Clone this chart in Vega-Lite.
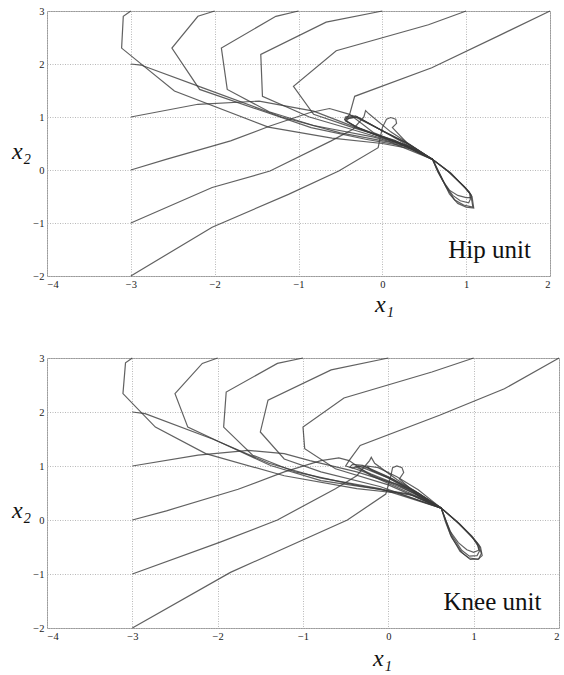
{
"$schema": "https://vega.github.io/schema/vega-lite/v6.json",
"padding": {"left": 11, "top": 5, "right": 0, "bottom": 0},
"background": "white",
"spacing": 35,
"config": {
  "view": {"stroke": "#9a9a9a", "strokeWidth": 1},
  "text": {"font": "Liberation Serif, Times New Roman, DejaVu Serif, serif"},
  "axis": {"labelFont": "Liberation Serif, Times New Roman, DejaVu Serif, serif", "labelFontSize": 10.5, "labelColor": "#222", "format": "d", "grid": true, "gridColor": "#b8b8b8", "gridDash": [1, 1.5], "gridWidth": 1, "domain": false, "ticks": false, "labelPadding": 3, "titleFont": "Liberation Serif, Times New Roman, DejaVu Serif, serif", "titleFontStyle": "italic", "titleFontWeight": "normal", "titleFontSize": 24, "titleColor": "#111"}
},
"datasets": {
  "hip": [
    {"t":"T1","i":0,"x":-3,"y":3},{"t":"T1","i":1,"x":-3.09,"y":2.9},{"t":"T1","i":2,"x":-3.11,"y":2.3},{"t":"T1","i":3,"x":-2.48,"y":1.49},{"t":"T1","i":4,"x":-1.36,"y":0.81},{"t":"T1","i":5,"x":-0.6,"y":0.6},{"t":"T1","i":6,"x":0.0,"y":0.5},{"t":"T1","i":7,"x":0.35,"y":0.4},{"t":"T1","i":8,"x":0.6,"y":0.2},
    {"t":"T2","i":0,"x":-2,"y":3},{"t":"T2","i":1,"x":-2.2,"y":2.9},{"t":"T2","i":2,"x":-2.51,"y":2.3},{"t":"T2","i":3,"x":-2.18,"y":1.52},{"t":"T2","i":4,"x":-1.5,"y":1.15},{"t":"T2","i":5,"x":-0.85,"y":0.8},{"t":"T2","i":6,"x":-0.2,"y":0.58},{"t":"T2","i":7,"x":0.3,"y":0.44},{"t":"T2","i":8,"x":0.6,"y":0.2},
    {"t":"T3","i":0,"x":-1,"y":3},{"t":"T3","i":1,"x":-1.27,"y":2.9},{"t":"T3","i":2,"x":-1.92,"y":2.3},{"t":"T3","i":3,"x":-1.85,"y":1.52},{"t":"T3","i":4,"x":-1.35,"y":1.1},{"t":"T3","i":5,"x":-0.82,"y":0.84},{"t":"T3","i":6,"x":-0.1,"y":0.62},{"t":"T3","i":7,"x":0.35,"y":0.42},{"t":"T3","i":8,"x":0.6,"y":0.2},
    {"t":"T4","i":0,"x":0,"y":3},{"t":"T4","i":1,"x":-0.67,"y":2.79},{"t":"T4","i":2,"x":-1.45,"y":2.18},{"t":"T4","i":3,"x":-1.43,"y":1.39},{"t":"T4","i":4,"x":-0.87,"y":1.0},{"t":"T4","i":5,"x":-0.31,"y":0.74},{"t":"T4","i":6,"x":0.2,"y":0.5},{"t":"T4","i":7,"x":0.6,"y":0.2},
    {"t":"T5","i":0,"x":1,"y":3},{"t":"T5","i":1,"x":0.55,"y":2.74},{"t":"T5","i":2,"x":-0.55,"y":2.25},{"t":"T5","i":3,"x":-1.06,"y":1.58},{"t":"T5","i":4,"x":-0.82,"y":1.05},{"t":"T5","i":5,"x":-0.35,"y":0.8},{"t":"T5","i":6,"x":0.15,"y":0.56},{"t":"T5","i":7,"x":0.6,"y":0.2},
    {"t":"T6","i":0,"x":2,"y":3},{"t":"T6","i":1,"x":1.41,"y":2.55},{"t":"T6","i":2,"x":0.59,"y":1.93},{"t":"T6","i":3,"x":-0.33,"y":1.39},{"t":"T6","i":4,"x":-0.39,"y":1.05},{"t":"T6","i":5,"x":-0.44,"y":0.96},{"t":"T6","i":6,"x":-0.3,"y":1.0},{"t":"T6","i":7,"x":0.0,"y":0.74},{"t":"T6","i":8,"x":0.6,"y":0.2},
    {"t":"T7","i":0,"x":-3,"y":2},{"t":"T7","i":1,"x":-2.88,"y":1.98},{"t":"T7","i":2,"x":-2.14,"y":1.55},{"t":"T7","i":3,"x":-1.2,"y":1.0},{"t":"T7","i":4,"x":-0.5,"y":0.7},{"t":"T7","i":5,"x":0.1,"y":0.52},{"t":"T7","i":6,"x":0.6,"y":0.2},
    {"t":"T8","i":0,"x":-3,"y":1},{"t":"T8","i":1,"x":-2.2,"y":1.24},{"t":"T8","i":2,"x":-1.47,"y":1.3},{"t":"T8","i":3,"x":-0.82,"y":1.11},{"t":"T8","i":4,"x":-0.31,"y":0.8},{"t":"T8","i":5,"x":0.2,"y":0.5},{"t":"T8","i":6,"x":0.6,"y":0.2},
    {"t":"T9","i":0,"x":-3,"y":0},{"t":"T9","i":1,"x":-2.58,"y":0.2},{"t":"T9","i":2,"x":-1.81,"y":0.55},{"t":"T9","i":3,"x":-1.34,"y":0.83},{"t":"T9","i":4,"x":-0.87,"y":1.08},{"t":"T9","i":5,"x":-0.63,"y":1.16},{"t":"T9","i":6,"x":-0.39,"y":1.05},{"t":"T9","i":7,"x":-0.1,"y":0.7},{"t":"T9","i":8,"x":0.3,"y":0.45},{"t":"T9","i":9,"x":0.6,"y":0.2},
    {"t":"T10","i":0,"x":-3,"y":-1},{"t":"T10","i":1,"x":-2.03,"y":-0.33},{"t":"T10","i":2,"x":-1.34,"y":-0.02},{"t":"T10","i":3,"x":-0.61,"y":0.55},{"t":"T10","i":4,"x":-0.35,"y":0.77},{"t":"T10","i":5,"x":-0.22,"y":1.0},{"t":"T10","i":6,"x":-0.2,"y":1.12},{"t":"T10","i":7,"x":-0.16,"y":1.06},{"t":"T10","i":8,"x":0.1,"y":0.72},{"t":"T10","i":9,"x":0.6,"y":0.2},
    {"t":"T11","i":0,"x":-3,"y":-2},{"t":"T11","i":1,"x":-2.03,"y":-1.08},{"t":"T11","i":2,"x":-1.12,"y":-0.46},{"t":"T11","i":3,"x":-0.52,"y":-0.02},{"t":"T11","i":4,"x":-0.05,"y":0.42},{"t":"T11","i":5,"x":0.0,"y":0.8},{"t":"T11","i":6,"x":0.05,"y":0.96},{"t":"T11","i":7,"x":0.1,"y":0.99},{"t":"T11","i":8,"x":0.16,"y":0.96},{"t":"T11","i":9,"x":0.17,"y":0.88},{"t":"T11","i":10,"x":0.12,"y":0.8},{"t":"T11","i":11,"x":0.3,"y":0.5},{"t":"T11","i":12,"x":0.6,"y":0.2},
    {"t":"L1","i":0,"x":0.6,"y":0.2},{"t":"L1","i":1,"x":0.8,"y":-0.05},{"t":"L1","i":2,"x":0.98,"y":-0.32},{"t":"L1","i":3,"x":1.05,"y":-0.45},{"t":"L1","i":4,"x":1.07,"y":-0.6},{"t":"L1","i":5,"x":1.08,"y":-0.7},{"t":"L1","i":6,"x":0.97,"y":-0.66},{"t":"L1","i":7,"x":0.86,"y":-0.56},{"t":"L1","i":8,"x":0.76,"y":-0.32},{"t":"L1","i":9,"x":0.68,"y":-0.06},{"t":"L1","i":10,"x":0.6,"y":0.2},{"t":"L1","i":11,"x":0.3,"y":0.46},{"t":"L1","i":12,"x":0.0,"y":0.62},{"t":"L1","i":13,"x":-0.3,"y":0.8},{"t":"L1","i":14,"x":-0.44,"y":0.93},{"t":"L1","i":15,"x":-0.42,"y":0.99},{"t":"L1","i":16,"x":-0.32,"y":1.02},{"t":"L1","i":17,"x":0.0,"y":0.74},{"t":"L1","i":18,"x":0.3,"y":0.5},{"t":"L1","i":19,"x":0.6,"y":0.2},
    {"t":"L2","i":0,"x":0.6,"y":0.2},{"t":"L2","i":1,"x":0.78,"y":-0.02},{"t":"L2","i":2,"x":0.97,"y":-0.3},{"t":"L2","i":3,"x":1.04,"y":-0.42},{"t":"L2","i":4,"x":1.05,"y":-0.55},{"t":"L2","i":5,"x":1.03,"y":-0.62},{"t":"L2","i":6,"x":0.93,"y":-0.58},{"t":"L2","i":7,"x":0.84,"y":-0.48},{"t":"L2","i":8,"x":0.75,"y":-0.28},{"t":"L2","i":9,"x":0.67,"y":-0.05},{"t":"L2","i":10,"x":0.6,"y":0.2},{"t":"L2","i":11,"x":0.32,"y":0.44},{"t":"L2","i":12,"x":0.02,"y":0.6},{"t":"L2","i":13,"x":-0.28,"y":0.79},{"t":"L2","i":14,"x":-0.43,"y":0.92},{"t":"L2","i":15,"x":-0.4,"y":0.98},{"t":"L2","i":16,"x":-0.3,"y":1.0},{"t":"L2","i":17,"x":0.02,"y":0.72},{"t":"L2","i":18,"x":0.32,"y":0.48},{"t":"L2","i":19,"x":0.6,"y":0.2},
    {"t":"L3","i":0,"x":0.6,"y":0.2},{"t":"L3","i":1,"x":0.8,"y":-0.04},{"t":"L3","i":2,"x":0.99,"y":-0.34},{"t":"L3","i":3,"x":1.06,"y":-0.47},{"t":"L3","i":4,"x":1.06,"y":-0.52},{"t":"L3","i":5,"x":1.0,"y":-0.52},{"t":"L3","i":6,"x":0.9,"y":-0.48},{"t":"L3","i":7,"x":0.8,"y":-0.38},{"t":"L3","i":8,"x":0.72,"y":-0.2},{"t":"L3","i":9,"x":0.66,"y":-0.03},{"t":"L3","i":10,"x":0.6,"y":0.2},{"t":"L3","i":11,"x":0.28,"y":0.47},{"t":"L3","i":12,"x":-0.02,"y":0.64},{"t":"L3","i":13,"x":-0.32,"y":0.82},{"t":"L3","i":14,"x":-0.45,"y":0.95},{"t":"L3","i":15,"x":-0.44,"y":1.0},{"t":"L3","i":16,"x":-0.36,"y":1.03},{"t":"L3","i":17,"x":-0.02,"y":0.76},{"t":"L3","i":18,"x":0.28,"y":0.52},{"t":"L3","i":19,"x":0.6,"y":0.2},
    {"t":"L4","i":0,"x":0.6,"y":0.2},{"t":"L4","i":1,"x":0.82,"y":-0.06},{"t":"L4","i":2,"x":1.0,"y":-0.36},{"t":"L4","i":3,"x":1.07,"y":-0.5},{"t":"L4","i":4,"x":1.09,"y":-0.72},{"t":"L4","i":5,"x":1.0,"y":-0.7},{"t":"L4","i":6,"x":0.9,"y":-0.63},{"t":"L4","i":7,"x":0.8,"y":-0.45},{"t":"L4","i":8,"x":0.7,"y":-0.12},{"t":"L4","i":9,"x":0.6,"y":0.2}
  ],
  "knee": [
    {"t":"K1","i":0,"x":-3,"y":3},{"t":"K1","i":1,"x":-3.08,"y":2.91},{"t":"K1","i":2,"x":-3.11,"y":2.34},{"t":"K1","i":3,"x":-2.73,"y":1.72},{"t":"K1","i":4,"x":-2.14,"y":1.23},{"t":"K1","i":5,"x":-1.22,"y":0.82},{"t":"K1","i":6,"x":-0.37,"y":0.58},{"t":"K1","i":7,"x":0.1,"y":0.5},{"t":"K1","i":8,"x":0.62,"y":0.22},
    {"t":"K2","i":0,"x":-2,"y":3},{"t":"K2","i":1,"x":-2.18,"y":2.9},{"t":"K2","i":2,"x":-2.5,"y":2.34},{"t":"K2","i":3,"x":-2.35,"y":1.72},{"t":"K2","i":4,"x":-1.97,"y":1.44},{"t":"K2","i":5,"x":-1.38,"y":1.01},{"t":"K2","i":6,"x":-0.79,"y":0.73},{"t":"K2","i":7,"x":-0.16,"y":0.58},{"t":"K2","i":8,"x":0.3,"y":0.45},{"t":"K2","i":9,"x":0.62,"y":0.22},
    {"t":"K3","i":0,"x":-1,"y":3},{"t":"K3","i":1,"x":-1.3,"y":2.9},{"t":"K3","i":2,"x":-1.9,"y":2.37},{"t":"K3","i":3,"x":-1.93,"y":1.72},{"t":"K3","i":4,"x":-1.59,"y":1.2},{"t":"K3","i":5,"x":-1.09,"y":0.89},{"t":"K3","i":6,"x":-0.37,"y":0.64},{"t":"K3","i":7,"x":0.25,"y":0.48},{"t":"K3","i":8,"x":0.62,"y":0.22},
    {"t":"K4","i":0,"x":0,"y":3},{"t":"K4","i":1,"x":-0.67,"y":2.78},{"t":"K4","i":2,"x":-1.41,"y":2.22},{"t":"K4","i":3,"x":-1.5,"y":1.63},{"t":"K4","i":4,"x":-1.22,"y":1.13},{"t":"K4","i":5,"x":-0.79,"y":0.89},{"t":"K4","i":6,"x":-0.1,"y":0.62},{"t":"K4","i":7,"x":0.62,"y":0.22},
    {"t":"K5","i":0,"x":1,"y":3},{"t":"K5","i":1,"x":0.51,"y":2.74},{"t":"K5","i":2,"x":-0.52,"y":2.26},{"t":"K5","i":3,"x":-1.0,"y":1.72},{"t":"K5","i":4,"x":-0.98,"y":1.32},{"t":"K5","i":5,"x":-0.62,"y":0.95},{"t":"K5","i":6,"x":0.0,"y":0.65},{"t":"K5","i":7,"x":0.62,"y":0.22},
    {"t":"K6","i":0,"x":2,"y":3},{"t":"K6","i":1,"x":1.36,"y":2.43},{"t":"K6","i":2,"x":0.6,"y":1.94},{"t":"K6","i":3,"x":-0.33,"y":1.38},{"t":"K6","i":4,"x":-0.46,"y":1.1},{"t":"K6","i":5,"x":-0.5,"y":1.0},{"t":"K6","i":6,"x":-0.42,"y":0.96},{"t":"K6","i":7,"x":-0.35,"y":1.0},{"t":"K6","i":8,"x":0.0,"y":0.78},{"t":"K6","i":9,"x":0.62,"y":0.22},
    {"t":"K7","i":0,"x":-3,"y":2},{"t":"K7","i":1,"x":-2.85,"y":1.97},{"t":"K7","i":2,"x":-2.06,"y":1.5},{"t":"K7","i":3,"x":-1.4,"y":1.05},{"t":"K7","i":4,"x":-0.8,"y":0.78},{"t":"K7","i":5,"x":-0.1,"y":0.58},{"t":"K7","i":6,"x":0.62,"y":0.22},
    {"t":"K8","i":0,"x":-3,"y":1},{"t":"K8","i":1,"x":-2.23,"y":1.2},{"t":"K8","i":2,"x":-1.64,"y":1.29},{"t":"K8","i":3,"x":-1.22,"y":1.23},{"t":"K8","i":4,"x":-0.92,"y":1.1},{"t":"K8","i":5,"x":-0.37,"y":0.89},{"t":"K8","i":6,"x":0.1,"y":0.66},{"t":"K8","i":7,"x":0.62,"y":0.22},
    {"t":"K9","i":0,"x":-3,"y":0},{"t":"K9","i":1,"x":-2.6,"y":0.17},{"t":"K9","i":2,"x":-1.76,"y":0.57},{"t":"K9","i":3,"x":-1.22,"y":0.89},{"t":"K9","i":4,"x":-0.79,"y":1.1},{"t":"K9","i":5,"x":-0.58,"y":1.15},{"t":"K9","i":6,"x":-0.46,"y":1.1},{"t":"K9","i":7,"x":-0.2,"y":0.82},{"t":"K9","i":8,"x":0.25,"y":0.5},{"t":"K9","i":9,"x":0.62,"y":0.22},
    {"t":"K10","i":0,"x":-3,"y":-1},{"t":"K10","i":1,"x":-1.97,"y":-0.41},{"t":"K10","i":2,"x":-1.3,"y":0.0},{"t":"K10","i":3,"x":-0.62,"y":0.58},{"t":"K10","i":4,"x":-0.37,"y":0.82},{"t":"K10","i":5,"x":-0.22,"y":1.1},{"t":"K10","i":6,"x":-0.2,"y":1.16},{"t":"K10","i":7,"x":-0.16,"y":1.05},{"t":"K10","i":8,"x":0.1,"y":0.75},{"t":"K10","i":9,"x":0.62,"y":0.22},
    {"t":"K11","i":0,"x":-3,"y":-2},{"t":"K11","i":1,"x":-1.85,"y":-0.97},{"t":"K11","i":2,"x":-0.48,"y":0.0},{"t":"K11","i":3,"x":-0.03,"y":0.48},{"t":"K11","i":4,"x":0.03,"y":0.82},{"t":"K11","i":5,"x":0.05,"y":0.97},{"t":"K11","i":6,"x":0.1,"y":1.0},{"t":"K11","i":7,"x":0.16,"y":0.97},{"t":"K11","i":8,"x":0.18,"y":0.88},{"t":"K11","i":9,"x":0.13,"y":0.76},{"t":"K11","i":10,"x":0.35,"y":0.45},{"t":"K11","i":11,"x":0.62,"y":0.22},
    {"t":"M1","i":0,"x":0.62,"y":0.22},{"t":"M1","i":1,"x":0.82,"y":-0.05},{"t":"M1","i":2,"x":0.98,"y":-0.3},{"t":"M1","i":3,"x":1.06,"y":-0.46},{"t":"M1","i":4,"x":1.09,"y":-0.62},{"t":"M1","i":5,"x":1.06,"y":-0.72},{"t":"M1","i":6,"x":0.96,"y":-0.73},{"t":"M1","i":7,"x":0.86,"y":-0.6},{"t":"M1","i":8,"x":0.74,"y":-0.32},{"t":"M1","i":9,"x":0.67,"y":-0.04},{"t":"M1","i":10,"x":0.62,"y":0.22},{"t":"M1","i":11,"x":0.3,"y":0.5},{"t":"M1","i":12,"x":0.0,"y":0.7},{"t":"M1","i":13,"x":-0.3,"y":0.9},{"t":"M1","i":14,"x":-0.45,"y":0.98},{"t":"M1","i":15,"x":-0.42,"y":1.03},{"t":"M1","i":16,"x":-0.3,"y":1.01},{"t":"M1","i":17,"x":0.0,"y":0.8},{"t":"M1","i":18,"x":0.3,"y":0.55},{"t":"M1","i":19,"x":0.62,"y":0.22},
    {"t":"M2","i":0,"x":0.62,"y":0.22},{"t":"M2","i":1,"x":0.8,"y":-0.03},{"t":"M2","i":2,"x":0.96,"y":-0.28},{"t":"M2","i":3,"x":1.04,"y":-0.43},{"t":"M2","i":4,"x":1.07,"y":-0.57},{"t":"M2","i":5,"x":1.04,"y":-0.66},{"t":"M2","i":6,"x":0.95,"y":-0.67},{"t":"M2","i":7,"x":0.86,"y":-0.56},{"t":"M2","i":8,"x":0.75,"y":-0.3},{"t":"M2","i":9,"x":0.68,"y":-0.03},{"t":"M2","i":10,"x":0.62,"y":0.22},{"t":"M2","i":11,"x":0.32,"y":0.52},{"t":"M2","i":12,"x":0.05,"y":0.74},{"t":"M2","i":13,"x":-0.2,"y":0.92},{"t":"M2","i":14,"x":-0.25,"y":1.0},{"t":"M2","i":15,"x":-0.12,"y":0.97},{"t":"M2","i":16,"x":0.1,"y":0.8},{"t":"M2","i":17,"x":0.35,"y":0.56},{"t":"M2","i":18,"x":0.62,"y":0.22},
    {"t":"M3","i":0,"x":0.62,"y":0.22},{"t":"M3","i":1,"x":0.83,"y":-0.07},{"t":"M3","i":2,"x":0.99,"y":-0.33},{"t":"M3","i":3,"x":1.05,"y":-0.48},{"t":"M3","i":4,"x":1.06,"y":-0.56},{"t":"M3","i":5,"x":1.0,"y":-0.6},{"t":"M3","i":6,"x":0.92,"y":-0.55},{"t":"M3","i":7,"x":0.82,"y":-0.42},{"t":"M3","i":8,"x":0.72,"y":-0.2},{"t":"M3","i":9,"x":0.62,"y":0.22},{"t":"M3","i":10,"x":0.35,"y":0.5},{"t":"M3","i":11,"x":0.1,"y":0.66},{"t":"M3","i":12,"x":-0.2,"y":0.85},{"t":"M3","i":13,"x":-0.38,"y":0.98},{"t":"M3","i":14,"x":-0.3,"y":1.0},{"t":"M3","i":15,"x":0.05,"y":0.76},{"t":"M3","i":16,"x":0.62,"y":0.22},
    {"t":"M4","i":0,"x":0.62,"y":0.22},{"t":"M4","i":1,"x":0.84,"y":-0.08},{"t":"M4","i":2,"x":1.0,"y":-0.35},{"t":"M4","i":3,"x":1.08,"y":-0.5},{"t":"M4","i":4,"x":1.1,"y":-0.66},{"t":"M4","i":5,"x":1.05,"y":-0.73},{"t":"M4","i":6,"x":0.94,"y":-0.7},{"t":"M4","i":7,"x":0.84,"y":-0.58},{"t":"M4","i":8,"x":0.73,"y":-0.28},{"t":"M4","i":9,"x":0.62,"y":0.22}
  ],
  "hiplabel": [{"label": "Hip unit", "x": 1.28, "y": -1.5}],
  "kneelabel": [{"label": "Knee unit", "x": 1.22, "y": -1.52}]
},
"vconcat": [
  {
    "width": 503, "height": 265,
    "layer": [
      {
        "data": {"name": "hip"},
        "mark": {"type": "line", "stroke": "#3a3a3a", "strokeWidth": 1.2, "opacity": 0.8},
        "encoding": {
          "x": {"field": "x", "type": "quantitative", "scale": {"domain": [-4, 2], "nice": false, "zero": false}, "axis": {"values": [-4, -3, -2, -1, 0, 1, 2], "title": "x₁", "titleX": 337, "titleY": 28, "titleBaseline": "middle"}},
          "y": {"field": "y", "type": "quantitative", "scale": {"domain": [-2, 3], "nice": false, "zero": false}, "axis": {"values": [-2, -1, 0, 1, 2, 3], "title": "x₂", "titleAngle": 0, "titleX": -26, "titleY": 140, "titleAlign": "center", "titleBaseline": "middle"}},
          "detail": {"field": "t"},
          "order": {"field": "i", "type": "quantitative"}
        }
      },
      {
        "data": {"name": "hiplabel"},
        "mark": {"type": "text", "font": "Liberation Serif, Times New Roman, DejaVu Serif, serif", "fontSize": 25, "color": "#111", "align": "center", "baseline": "middle"},
        "encoding": {"x": {"field": "x", "type": "quantitative"}, "y": {"field": "y", "type": "quantitative"}, "text": {"field": "label"}}
      }
    ]
  },
  {
    "width": 512, "height": 270,
    "layer": [
      {
        "data": {"name": "knee"},
        "mark": {"type": "line", "stroke": "#3a3a3a", "strokeWidth": 1.2, "opacity": 0.8},
        "encoding": {
          "x": {"field": "x", "type": "quantitative", "scale": {"domain": [-4, 2], "nice": false, "zero": false}, "axis": {"values": [-4, -3, -2, -1, 0, 1, 2], "title": "x₁", "titleX": 335, "titleY": 30, "titleBaseline": "middle"}},
          "y": {"field": "y", "type": "quantitative", "scale": {"domain": [-2, 3], "nice": false, "zero": false}, "axis": {"values": [-2, -1, 0, 1, 2, 3], "title": "x₂", "titleAngle": 0, "titleX": -26, "titleY": 152, "titleAlign": "center", "titleBaseline": "middle"}},
          "detail": {"field": "t"},
          "order": {"field": "i", "type": "quantitative"}
        }
      },
      {
        "data": {"name": "kneelabel"},
        "mark": {"type": "text", "font": "Liberation Serif, Times New Roman, DejaVu Serif, serif", "fontSize": 25, "color": "#111", "align": "center", "baseline": "middle"},
        "encoding": {"x": {"field": "x", "type": "quantitative"}, "y": {"field": "y", "type": "quantitative"}, "text": {"field": "label"}}
      }
    ]
  }
]
}
